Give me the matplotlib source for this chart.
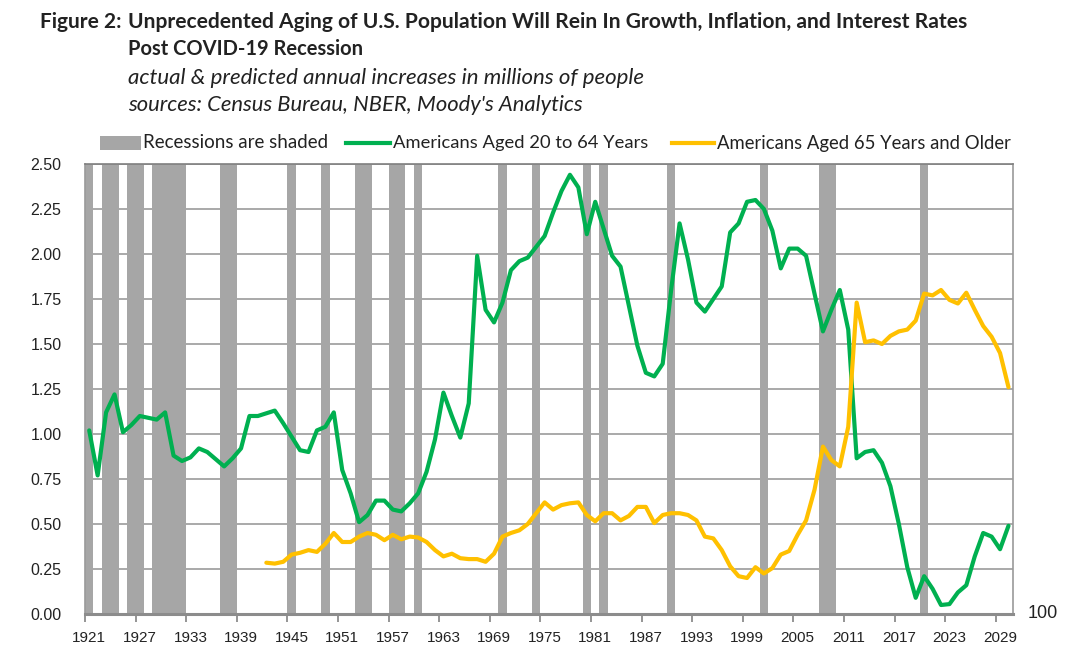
import numpy as np
import matplotlib
matplotlib.use("Agg")
import matplotlib.pyplot as plt
from matplotlib.lines import Line2D
from matplotlib.patches import Rectangle

# ---------------- data ----------------
years = list(range(1921, 2031))

recession_years = [1921, 1923, 1924, 1926, 1927, 1929, 1930, 1931, 1932, 1937, 1938,
                   1945, 1949, 1953, 1954, 1957, 1958, 1960, 1970, 1974, 1980, 1982,
                   1990, 2001, 2008, 2009, 2020]

aged_20_64 = [1.02, 0.77, 1.12, 1.22, 1.01, 1.05, 1.10, 1.09, 1.08, 1.12,
              0.88, 0.85, 0.87, 0.92, 0.90, 0.86, 0.82, 0.865, 0.92, 1.10,
              1.10, 1.115, 1.13, 1.06, 0.985, 0.91, 0.90, 1.02, 1.04, 1.12,
              0.80, 0.67, 0.51, 0.55, 0.63, 0.63, 0.58, 0.57, 0.615, 0.67,
              0.79, 0.97, 1.23, 1.10, 0.98, 1.17, 1.99, 1.69, 1.62, 1.73,
              1.91, 1.96, 1.98, 2.04, 2.10, 2.23, 2.35, 2.44, 2.37, 2.11,
              2.29, 2.14, 1.99, 1.93, 1.71, 1.49, 1.34, 1.32, 1.39, 1.80,
              2.17, 1.97, 1.73, 1.68, 1.75, 1.82, 2.12, 2.17, 2.29, 2.30,
              2.25, 2.13, 1.92, 2.03, 2.03, 1.99, 1.78, 1.57, 1.69, 1.80,
              1.58, 0.865, 0.90, 0.91, 0.84, 0.71, 0.50, 0.26, 0.09, 0.21,
              0.14, 0.05, 0.055, 0.12, 0.16, 0.32, 0.45, 0.43, 0.36, 0.49]

years_65 = list(range(1942, 2031))
aged_65_plus = [0.285, 0.28, 0.29, 0.33, 0.34, 0.355, 0.345, 0.39, 0.45,
                0.40, 0.40, 0.43, 0.45, 0.44, 0.41, 0.44, 0.415, 0.43, 0.425,
                0.40, 0.355, 0.32, 0.335, 0.31, 0.305, 0.305, 0.29, 0.335, 0.43,
                0.45, 0.465, 0.50, 0.56, 0.62, 0.58, 0.605, 0.615, 0.62, 0.55,
                0.515, 0.56, 0.56, 0.52, 0.545, 0.595, 0.595, 0.505, 0.55, 0.56,
                0.56, 0.55, 0.52, 0.43, 0.42, 0.355, 0.265, 0.21, 0.20, 0.26,
                0.225, 0.255, 0.33, 0.35, 0.44, 0.52, 0.69, 0.93, 0.855, 0.82,
                1.04, 1.73, 1.51, 1.52, 1.50, 1.545, 1.57, 1.58, 1.63, 1.78,
                1.77, 1.80, 1.745, 1.725, 1.785, 1.69, 1.60, 1.54, 1.45, 1.26]

y_ticks = [0.0, 0.25, 0.5, 0.75, 1.0, 1.25, 1.5, 1.75, 2.0, 2.25, 2.5]
x_label_years = list(range(1921, 2030, 6))

title_lead = "Figure 2:"
title_line1 = "Unprecedented Aging of U.S. Population Will Rein In Growth, Inflation, and Interest Rates"
title_line2 = "Post COVID-19 Recession"
sub_line1 = "actual & predicted annual increases in millions of people"
sub_line2 = "sources: Census Bureau, NBER, Moody's Analytics"
legend_labels = ["Recessions are shaded", "Americans Aged 20 to 64 Years",
                 "Americans Aged 65 Years and Older"]

# ---------------- style ----------------
GREEN = "#00B050"
GOLD = "#FFC000"
BAR_GRAY = "#A6A6A6"
GRID = "#A9A9A9"
TXT = "#222222"
TICKFONT = ["Liberation Sans", "DejaVu Sans"]
HEADFONT = ["Lato", "Liberation Sans", "DejaVu Sans"]

W, H = 1080, 665
fig = plt.figure(figsize=(W / 100, H / 100), dpi=100)
fig.patch.set_facecolor("white")


def fx(px):
    return px / W


def fy(py):
    return 1 - py / H


left, right, top, bottom = 85, 1012.7, 164, 614
ax = fig.add_axes([fx(left), fy(bottom), fx(right - left), (bottom - top) / H])

ax.set_xlim(1920.5, 2030.5)
ax.set_ylim(0, 2.5)

# gridlines
ax.set_yticks(y_ticks)
ax.yaxis.grid(True, color=GRID, linewidth=1.4, zorder=0)
ax.set_axisbelow(True)

# recession bars
ax.bar(recession_years, [2.5] * len(recession_years), width=1.0, color=BAR_GRAY,
       edgecolor="none", zorder=1)

ax.plot(years, aged_20_64, color=GREEN, linewidth=3.0, zorder=3,
        solid_joinstyle="round", solid_capstyle="round")
ax.plot(years_65, aged_65_plus, color=GOLD, linewidth=3.0, zorder=3,
        solid_joinstyle="round", solid_capstyle="round")

# y tick labels
ax.set_yticklabels([f"{v:.2f}" for v in y_ticks])
ax.tick_params(axis="y", length=0, pad=17, labelsize=11.5, labelcolor=TXT)
for lab in ax.get_yticklabels():
    lab.set_family(TICKFONT)

# x ticks: marks at category boundaries, labels at category centres
ax.set_xticks([y - 0.5 for y in x_label_years])
ax.set_xticklabels([])
ax.tick_params(axis="x", which="major", length=6, width=1.3, color="#8C8C8C", direction="out")
ax.set_xticks(x_label_years, minor=True)
ax.set_xticklabels([str(y) for y in x_label_years], minor=True)
ax.tick_params(axis="x", which="minor", length=0, pad=12, labelsize=11, labelcolor=TXT)
for lab in ax.get_xticklabels(minor=True):
    lab.set_family(TICKFONT)

for side in ["top", "right", "left"]:
    ax.spines[side].set_color("#9A9A9A")
    ax.spines[side].set_linewidth(1.2)
ax.spines["top"].set_color("#7F7F7F")
ax.spines["bottom"].set_color("#8C8C8C")
ax.spines["bottom"].set_linewidth(2.2)
ax.spines["bottom"].set_zorder(4)

# secondary axis maximum label
fig.text(fx(1028), fy(614), "100", ha="left", va="center", fontsize=13,
         color=TXT, family=TICKFONT)

# ---------------- titles (fit to measured widths) ----------------
renderer = fig.canvas.get_renderer()


def fit_text(x0, x1, yc, s, **kw):
    t = fig.text(fx(x0), fy(yc), s, ha="left", va="center", fontsize=14, **kw)
    bb = t.get_window_extent(renderer=renderer)
    t.set_fontsize(14 * (x1 - x0) / bb.width)
    return t


fit_text(40, 122, 22, title_lead, fontweight="bold", color=TXT, family=HEADFONT)
fit_text(128, 972, 22, title_line1, fontweight="bold", color=TXT, family=HEADFONT)
fit_text(128, 365, 49, title_line2, fontweight="bold", color=TXT, family=HEADFONT)
fit_text(128, 648, 78, sub_line1, style="italic", color=TXT, family=HEADFONT)
fit_text(128, 585, 105, sub_line2, style="italic", color=TXT, family=HEADFONT)

# ---------------- legend ----------------
leg_y = 143
fig.patches.append(Rectangle((fx(100), fy(leg_y + 7)), fx(141) - fx(100), (14) / H,
                             transform=fig.transFigure, facecolor=BAR_GRAY,
                             edgecolor="none"))
fig.lines.append(Line2D([fx(346), fx(390)], [fy(leg_y), fy(leg_y)],
                        transform=fig.transFigure, color=GREEN, linewidth=3.0))
fig.lines.append(Line2D([fx(672), fx(714)], [fy(leg_y), fy(leg_y)],
                        transform=fig.transFigure, color=GOLD, linewidth=3.0))
fit_text(143, 328, leg_y, legend_labels[0], color=TXT, family=HEADFONT)
fit_text(393, 648, leg_y, legend_labels[1], color=TXT, family=HEADFONT)
fit_text(717, 1012, leg_y, legend_labels[2], color=TXT, family=HEADFONT)

fig.savefig("out.png", dpi=100, facecolor="white")
